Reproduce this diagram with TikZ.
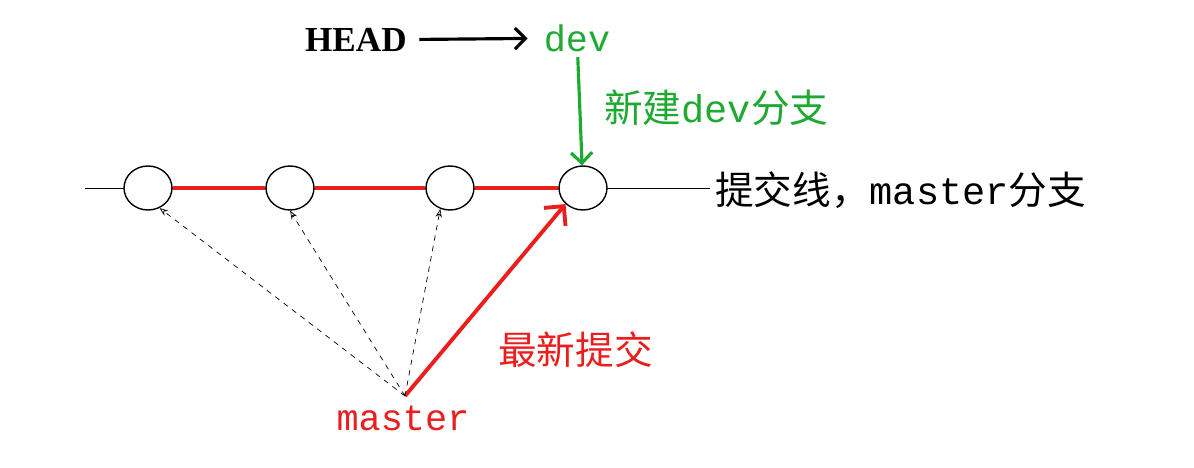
\documentclass[tikz,border=0pt]{standalone}
\usepackage{fontspec}
\setmainfont{Liberation Serif}
\setmonofont{Liberation Mono}
\newfontfamily\cjk{Noto Sans CJK SC}
\usetikzlibrary{arrows.meta, shapes.geometric}
\definecolor{devgreen}{RGB}{30,170,50}
\definecolor{redline}{RGB}{235,30,30}
\tikzset{
  commit/.style={draw, thick, ellipse, minimum width=0.96cm, minimum height=0.88cm, inner sep=0pt},
  lbl/.style={font=\fontsize{22pt}{24pt}\selectfont, inner sep=1pt},
  monolbl/.style={font=\ttfamily\fontsize{21pt}{24pt}\selectfont, inner sep=1pt},
  hint/.style={-{Stealth[open]}, dashed, thin}
}
\begin{document}
\begin{tikzpicture}[x=0.02cm,y=-0.02cm]
	\useasboundingbox (0,0) rectangle (1194,467);

	\coordinate (line start) at (85,188);
	\coordinate (line end) at (710,188);
	\draw (line start) -- (line end);

	% commits
	\foreach \x/\n in {148/c1, 290/c2, 450/c3, 583/c4}
		\node[commit, fill=white] (\n) at (\x,188) {};
	\begin{scope}[redline, line width=2.2pt]
		\draw (c1) -- (c2);
		\draw (c2) -- (c3);
		\draw (c3) -- (c4);
	\end{scope}

	\node[lbl, anchor=west] (trunk) at (713,190) {{\cjk 提交线，}\texttt{master}{\cjk 分支}};

	\node[lbl, anchor=west, font=\bfseries\fontsize{20pt}{22pt}\selectfont] (head) at (303,40) {HEAD};
	\node[monolbl, devgreen] (dev) at (577,38) {dev};
	\draw[-{Straight Barb[length=6pt]}, line width=1.8pt, shorten <=6pt, shorten >=8pt] (head) -- (dev);
	\draw[-{Straight Barb[length=6pt]}, devgreen, line width=1.8pt, shorten <=2pt] (dev) -- (c4);
	\node[lbl, devgreen, anchor=west] (newdev) at (602,108) {{\cjk 新建}\texttt{dev}{\cjk 分支}};

	\node[monolbl, redline] (master) at (403,418) {master};
	\coordinate (root) at (405,396);
	\draw[-{Straight Barb[length=8pt]}, redline, line width=2.2pt] (root) -- (c4.south west);
	\node[lbl, redline, anchor=west] (newest) at (496,350) {\cjk 最新提交};

	\foreach \n/\t in {c1/150, c2/120, c3/95}
		\draw[hint] (root) -- (\n.\t+150);
\end{tikzpicture}
\end{document}
